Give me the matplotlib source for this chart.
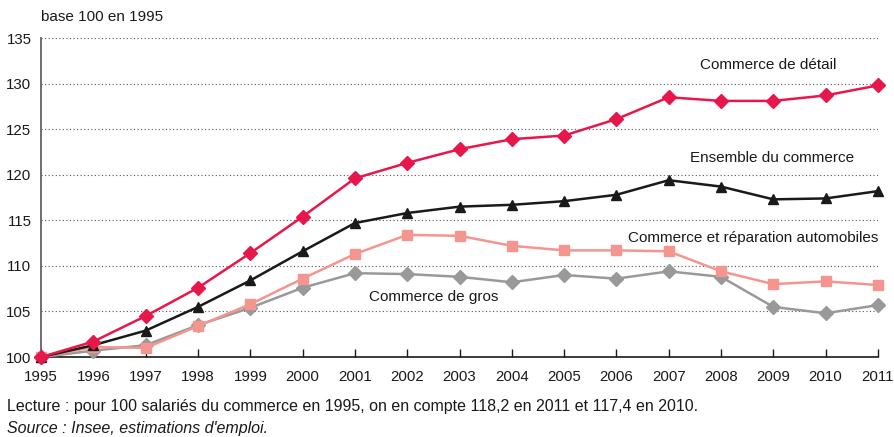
import matplotlib
matplotlib.use("Agg")
import matplotlib.pyplot as plt

plt.rcParams['font.family'] = ['Liberation Sans', 'DejaVu Sans']

# ─── Data ─────────────────────────────────────────────────────────────────────

years = list(range(1995, 2012))

detail = [100, 101.7, 104.5, 107.6, 111.4, 115.4, 119.6, 121.3, 122.8, 123.9,
          124.3, 126.1, 128.5, 128.1, 128.1, 128.7, 129.8]
ensemble = [100, 101.3, 102.9, 105.5, 108.4, 111.6, 114.7, 115.8, 116.5, 116.7,
            117.1, 117.8, 119.4, 118.7, 117.3, 117.4, 118.2]
auto = [100, 101.1, 101.0, 103.4, 105.8, 108.6, 111.3, 113.4, 113.3, 112.2,
        111.7, 111.7, 111.6, 109.4, 108.0, 108.3, 107.9]
gros = [100, 100.7, 101.3, 103.5, 105.4, 107.6, 109.2, 109.1, 108.8, 108.2,
        109.0, 108.6, 109.4, 108.8, 105.5, 104.8, 105.7]

yticks = [100, 105, 110, 115, 120, 125, 130, 135]

# ─── Plot ─────────────────────────────────────────────────────────────────────

fig = plt.figure(figsize=(8.94, 4.37), dpi=100)
ax = fig.add_axes([0.046, 0.183, 0.936, 0.730])

for y in yticks[1:]:
    ax.axhline(y, color='#555555', lw=0.8, ls=(0, (1, 2.2)), zorder=1)

series = [
    (gros, '#999999', 'D', 7),
    (auto, '#f4968f', 's', 7),
    (ensemble, '#1a1a1a', '^', 7.5),
    (detail, '#e8174b', 'D', 7),
]
for vals, col, mk, ms in series:
    ax.plot(years, vals, color=col, lw=1.8, marker=mk, ms=ms,
            clip_on=False, zorder=3)

ax.set_xlim(1995, 2011)
ax.set_ylim(100, 135)
ax.set_xticks(years)
ax.set_yticks(yticks)
ax.tick_params(axis='x', direction='in', length=6, width=1, pad=9,
               labelsize=10.8, colors='#1a1a1a')
ax.tick_params(axis='y', length=0, pad=7, labelsize=10.8, colors='#1a1a1a')

for s in ('top', 'right'):
    ax.spines[s].set_visible(False)
ax.spines['left'].set_color('#555555')
ax.spines['left'].set_linewidth(1.2)
ax.spines['bottom'].set_color('#1a1a1a')
ax.spines['bottom'].set_linewidth(1.2)

# series labels
lab = dict(fontsize=11, color='#1a1a1a')
ax.text(2008.9, 132.0, "Commerce de détail", ha='center', va='center', **lab)
ax.text(2008.98, 121.8, "Ensemble du commerce", ha='center', va='center', **lab)
ax.text(2011, 113.05, "Commerce et réparation automobiles", ha='right', va='center', **lab)
ax.text(2002.5, 106.6, "Commerce de gros", ha='center', va='center', **lab)

fig.text(41 / 894, 1 - 17 / 437, "base 100 en 1995", ha='left', va='center',
         fontsize=11, color='#1a1a1a')
fig.text(7 / 894, 1 - 407 / 437,
         "Lecture : pour 100 salariés du commerce en 1995, on en compte 118,2 en 2011 et 117,4 en 2010.",
         ha='left', va='center', fontsize=11.5, color='#1a1a1a')
fig.text(7 / 894, 1 - 428 / 437, "Source : Insee, estimations d'emploi.",
         ha='left', va='center', fontsize=11.5, style='italic', color='#1a1a1a')

fig.savefig("out.png", dpi=100)
